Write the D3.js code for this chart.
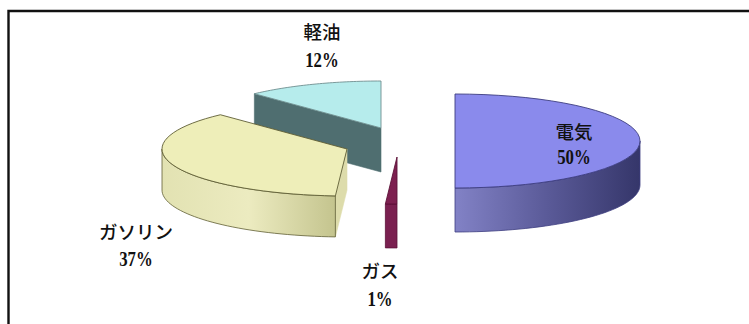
<!DOCTYPE html>
<html lang="ja">
<head>
<meta charset="utf-8">
<script src="https://cdn.jsdelivr.net/npm/d3@7/dist/d3.min.js"></script>
<style>
  html, body { margin: 0; padding: 0; background: #fff; }
  svg { display: block; }
  .name { font-family: "Noto Sans CJK JP", sans-serif; font-weight: 500; font-size: 18.5px; fill: #111; }
  .pct { font-family: "Liberation Serif", serif; font-weight: bold; font-size: 20px; fill: #111; }
</style>
</head>
<body>
<svg id="chart" width="749" height="324"></svg>
<script>
// Energy shares, clockwise from twelve o'clock
const categories = ["電気", "ガス", "ガソリン", "軽油"];
const shares = [50, 1, 37, 12];

// Per-slice styling and placement of the exploded tilted pie
const topColors = ["#8a8aec", "#7d2050", "#eeeeb9", "#b6ecec"];
const wallColors = [
  ["#8282c6", "#5a5a98", "#35366a"],
  ["#7a2050", "#7a2050", "#7a2050"],
  ["#e2e2b2", "#ecebc0", "#c4c48e"],
  ["#4f6e70", "#4f6e70", "#4f6e70"]
];
const faceColors = ["#55558f", "#6e1c48", "#dddcab", "#4f6e70"];
const edgeColors = ["#3d3d80", "#5c1238", "#5f5e34", "#6f8f90"];
const apexX = [455, 397, 347, 381];
const apexY = [141, 157, 149, 128];
const depths = [44, 44, 41, 44];
const labelX = [574, 380, 136, 322];
const nameY = [139, 278, 239, 39];
const pctY = [164, 306, 266, 67];
const rx = 185, ry = 47;

const svg = d3.select("#chart");
const defs = svg.append("defs");
const line = d3.line();
const pie = d3.pie().sort(null).value(d => d)(shares);

// Frame: only the top and left rules are present
svg.append("path").attr("d", "M8.5,324V11H749").attr("fill", "none")
  .attr("stroke", "#111").attr("stroke-width", 2.4);

const project = (i, a, drop = 0) => [
  apexX[i] + rx * Math.sin(a),
  apexY[i] - ry * Math.cos(a) + drop
];
const arcPoints = (i, a0, a1, drop = 0) =>
  d3.range(0, 41).map(k => project(i, a0 + (a1 - a0) * k / 40, drop));

// Painter's order: back slice first, nearest slices last
[3, 2, 1, 0].forEach(i => {
  const { startAngle: a0, endAngle: a1 } = pie[i];
  const depth = depths[i];
  const g = svg.append("g");
  const apex = [apexX[i], apexY[i]];

  // Cut face on the start side, visible when it turns toward the viewer
  if (Math.sin(a0) < -0.01) {
    const p = project(i, a0);
    g.append("path")
      .attr("d", line([apex, p, [p[0], p[1] + depth], [apex[0], apex[1] + depth]]) + "Z")
      .attr("fill", faceColors[i]).attr("stroke", faceColors[i]).attr("stroke-width", 0.6);
  }

  // Outer wall: only the part of the rim between 90° and 270° faces front
  const w0 = Math.max(a0, Math.PI / 2), w1 = Math.min(a1, 3 * Math.PI / 2);
  if (w1 > w0) {
    const gid = "wall" + i;
    const pA = project(i, w0), pB = project(i, w1);
    const grad = defs.append("linearGradient").attr("id", gid)
      .attr("gradientUnits", "userSpaceOnUse")
      .attr("x1", Math.min(pA[0], pB[0])).attr("x2", Math.max(pA[0], pB[0]))
      .attr("y1", 0).attr("y2", 0);
    wallColors[i].forEach((c, k) => {
      grad.append("stop").attr("offset", k / 2).attr("stop-color", c);
    });
    const upper = arcPoints(i, w0, w1);
    const lower = arcPoints(i, w1, w0, depth);
    g.append("path").attr("d", line(upper.concat(lower)) + "Z")
      .attr("fill", `url(#${gid})`)
      .attr("stroke", edgeColors[i]).attr("stroke-width", 0.8);
  }

  // Top face
  g.append("path")
    .attr("d", line([apex].concat(arcPoints(i, a0, a1))) + "Z")
    .attr("fill", topColors[i])
    .attr("stroke", edgeColors[i]).attr("stroke-width", 0.9)
    .attr("stroke-linejoin", "round");
});

// Category name above its percentage; the figures are set slightly condensed
categories.forEach((c, i) => {
  svg.append("text").attr("class", "name").attr("text-anchor", "middle")
    .attr("x", labelX[i]).attr("y", nameY[i]).text(c);
  svg.append("text").attr("class", "pct").attr("text-anchor", "middle")
    .attr("transform", `translate(${labelX[i]},${pctY[i]}) scale(0.84,1)`)
    .text(shares[i] + "%");
});
</script>
</body>
</html>
